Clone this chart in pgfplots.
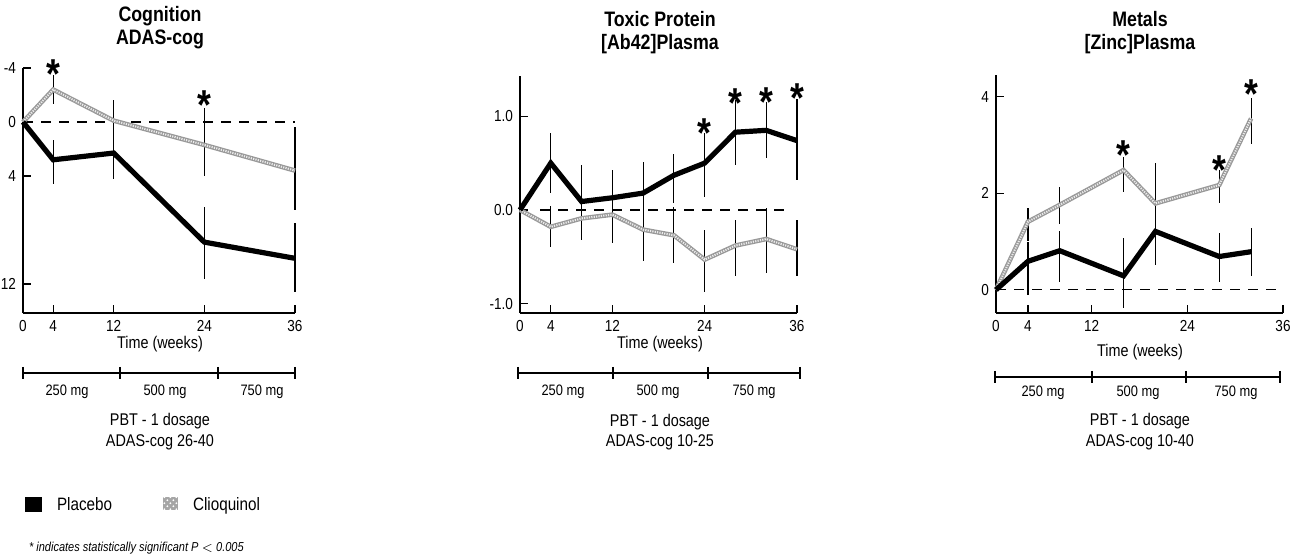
\documentclass[border=0pt]{standalone}
\usepackage{fontspec}
\setmainfont{Liberation Sans}[FakeStretch=0.85]
\usepackage{pgfplots}
\pgfplotsset{compat=1.18}
\usetikzlibrary{patterns}
\pgfplotsset{
  myax/.style={scale only axis, anchor=south west,
    axis x line=bottom, axis y line=left,
    axis line style={-, line width=0.6bp},
    tick style={black, line width=0.6bp},
    major tick length=4bp, tick align=inside,
    xmin=0, xmax=36, xtick={0,4,12,24,36},
    clip=false,
    ticklabel style={font=\fontsize{8}{9}\selectfont},
    /pgf/number format/assume math mode=true},
  ebar/.style={draw=none, mark=none, forget plot,
    error bars/.cd, y dir=both, y explicit, error mark=none,
    error bar style={black, line width=0.6bp, solid}},
  placebo/.style={black, line width=2.6bp, mark=none},
  clioA/.style={gray!80, line width=2.3bp, mark=none},
  clioB/.style={white!85!gray, line width=1.0bp, mark=none, dash pattern=on 0.6bp off 0.6bp},
  zero/.style={black, line width=0.6bp, mark=none, dash pattern=on 5bp off 4bp},
  stars/.style={draw=none, mark=none, nodes near coords={\fontsize{21}{21}\selectfont\bfseries *},
    nodes near coords align={center},
    every node near coord/.append style={text=black, anchor=center, yshift=-4.5bp}}
}
\begin{document}
\begin{tikzpicture}
\useasboundingbox (0,0) rectangle (646bp,280bp);

% ---------- Panel 1 ----------
\begin{axis}[myax, at={(11.5bp,123.5bp)}, width=136bp, height=122.5bp,
  y dir=reverse, ymin=-4, ymax=14.15, ytick={-4,0,4,12}, yticklabels={-4,0,4,12}]
\addplot[zero] coordinates {(0,0) (36,0)};
\addplot[ebar] coordinates {
 (4,2.8) += (0,1.8) -= (0,1.5)
 (12,2.3) += (0,1.9) -= (0,1.8)
 (24,8.9) += (0,2.7) -= (0,2.6)
 (36,10.1) += (0,2.5) -= (0,2.6)};
\addplot[ebar] coordinates {
 (4,-2.4) += (0,1.1) -= (0,1.1)
 (12,-0.1) += (0,1.5) -= (0,1.5)
 (24,1.7) += (0,2.3) -= (0,2.7)
 (36,3.6) += (0,2.9) -= (0,3.2)};
\addplot[clioA] coordinates {(0,0) (4,-2.4) (12,-0.1) (24,1.7) (36,3.6)};
\addplot[clioB] coordinates {(0,0) (4,-2.4) (12,-0.1) (24,1.7) (36,3.6)};
\addplot[placebo] coordinates {(0,0) (4,2.8) (12,2.3) (24,8.9) (36,10.1)};
\addplot[stars] coordinates {(4,-4.2) (24,-1.9)};
\end{axis}

% ---------- Panel 2 ----------
\begin{axis}[myax, at={(260bp,123.5bp)}, width=138.5bp, height=118.5bp,
  ymin=-1.1, ymax=1.43, ytick={-1,0,1}, yticklabels={-1.0,0.0,1.0}]
\addplot[zero] coordinates {(2.6,0) (34.4,0)};
\addplot[ebar] coordinates {
 (4,0.50) += (0,0.32) -= (0,0.32)
 (8,0.09) += (0,0.39) -= (0,0.20)
 (12,0.13) += (0,0.30) -= (0,0.20)
 (16,0.18) += (0,0.33) -= (0,0.30)
 (20,0.37) += (0,0.23) -= (0,0.30)
 (24,0.50) += (0,0.32) -= (0,0.36)
 (28,0.83) += (0,0.34) -= (0,0.35)
 (32,0.85) += (0,0.30) -= (0,0.30)
 (36,0.74) += (0,0.44) -= (0,0.42)};
\addplot[ebar] coordinates {
 (4,-0.18) += (0,0.22) -= (0,0.22)
 (8,-0.09) += (0,0.20) -= (0,0.23)
 (12,-0.05) += (0,0.20) -= (0,0.30)
 (16,-0.21) += (0,0.30) -= (0,0.34)
 (20,-0.27) += (0,0.30) -= (0,0.30)
 (24,-0.53) += (0,0.32) -= (0,0.35)
 (28,-0.38) += (0,0.27) -= (0,0.32)
 (32,-0.31) += (0,0.33) -= (0,0.36)
 (36,-0.42) += (0,0.31) -= (0,0.29)};
\addplot[clioA] coordinates {(0,0) (4,-0.18) (8,-0.09) (12,-0.05) (16,-0.21) (20,-0.27) (24,-0.53) (28,-0.38) (32,-0.31) (36,-0.42)};
\addplot[clioB] coordinates {(0,0) (4,-0.18) (8,-0.09) (12,-0.05) (16,-0.21) (20,-0.27) (24,-0.53) (28,-0.38) (32,-0.31) (36,-0.42)};
\addplot[placebo] coordinates {(0,0) (4,0.50) (8,0.09) (12,0.13) (16,0.18) (20,0.37) (24,0.50) (28,0.83) (32,0.85) (36,0.74)};
\addplot[stars] coordinates {(24,0.92) (28,1.24) (32,1.25) (36,1.29)};
\end{axis}

% ---------- Panel 3 ----------
\begin{axis}[myax, at={(498bp,123.5bp)}, width=143.5bp, height=119bp,
  ymin=-0.48, ymax=4.45, ytick={0,2,4}, yticklabels={0,2,4}]
\addplot[zero] coordinates {(0,0) (35.6,0)};
\addplot[ebar] coordinates {
 (4,0.59) += (0,0.40) -= (0,0.69)
 (8,0.81) += (0,0.40) -= (0,0.64)
 (16,0.29) += (0,0.78) -= (0,0.67)
 (20,1.21) += (0,0.40) -= (0,0.69)
 (28,0.69) += (0,0.48) -= (0,0.52)
 (32,0.79) += (0,0.49) -= (0,0.51)};
\addplot[ebar] coordinates {
 (4,1.41) += (0,0.28) -= (0,0.40)
 (8,1.76) += (0,0.38) -= (0,0.40)
 (16,2.48) += (0,0.28) -= (0,0.45)
 (20,1.79) += (0,0.83) -= (0,0.40)
 (28,2.17) += (0,0.31) -= (0,0.38)
 (32,3.55) += (0,0.42) -= (0,0.52)};
\addplot[clioA] coordinates {(0,0) (4,1.41) (8,1.76) (16,2.48) (20,1.79) (28,2.17) (32,3.55)};
\addplot[clioB] coordinates {(0,0) (4,1.41) (8,1.76) (16,2.48) (20,1.79) (28,2.17) (32,3.55)};
\addplot[placebo] coordinates {(0,0) (4,0.59) (8,0.81) (16,0.29) (20,1.21) (28,0.69) (32,0.79)};
\addplot[stars] coordinates {(16,2.97) (28,2.66) (32,4.24)};
\end{axis}

% ---------- annotations (pixel coordinates) ----------
\begin{scope}[x=0.5bp, y=-0.5bp, yshift=280bp]
\begin{scope}[font=\fontsize{10.5}{11.5}\selectfont\bfseries, align=center]
\node at (160,28) {Cognition\\ADAS-cog};
\node at (660,33) {Toxic Protein\\{[Ab42]}Plasma};
\node at (1140,33) {Metals\\{[Zinc]}Plasma};
\end{scope}
\begin{scope}[font=\fontsize{8.5}{10}\selectfont]
\node at (160,344) {Time (weeks)};
\node at (660,344) {Time (weeks)};
\node at (1140,352) {Time (weeks)};
\node at (160,421) {PBT - 1 dosage};
\node at (160,442) {ADAS-cog 26-40};
\node at (660,422) {PBT - 1 dosage};
\node at (660,442) {ADAS-cog 10-25};
\node at (1140,421) {PBT - 1 dosage};
\node at (1140,442) {ADAS-cog 10-40};
\end{scope}
\begin{scope}[line width=0.6bp]
\draw (23,373) -- (295,373);
\foreach \t in {23,120,218,295} \draw (\t,367) -- (\t,379);
\draw (518,373) -- (800,373);
\foreach \t in {518,613,708,800} \draw (\t,367) -- (\t,379);
\draw (995,377) -- (1280,377);
\foreach \t in {995,1092,1186,1280} \draw (\t,371) -- (\t,383);
\end{scope}
\begin{scope}[font=\fontsize{7.6}{8}\selectfont]
\node at (67,392) {250 mg};
\node at (165,392) {500 mg};
\node at (262,392) {750 mg};
\node at (563,392) {250 mg};
\node at (658,392) {500 mg};
\node at (754,392) {750 mg};
\node at (1043,393) {250 mg};
\node at (1138,393) {500 mg};
\node at (1236,393) {750 mg};
\end{scope}
% legend
\fill[black] (25,497) rectangle (42,512);
\node[anchor=base west, font=\fontsize{9}{10}\selectfont] at (50,511) {Placebo};
\fill[gray!70] (163,497) rectangle (178,510);
\fill[pattern=crosshatch dots, pattern color=white] (163,497) rectangle (178,510);
\node[anchor=base west, font=\fontsize{9}{10}\selectfont] at (186,511) {Clioquinol};
\node[anchor=west, font=\fontsize{6.5}{7}\selectfont\itshape] at (22,548) {* indicates statistically significant \textit{P} $<$ 0.005};
\end{scope}
\end{tikzpicture}
\end{document}
